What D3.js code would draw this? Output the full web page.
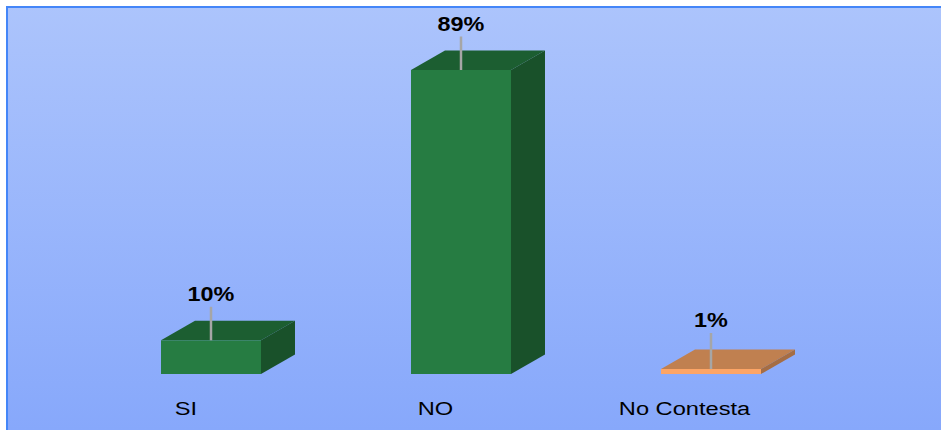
<!DOCTYPE html>
<html><head><meta charset="utf-8">
<script src="https://cdn.jsdelivr.net/npm/d3@7"></script>
<style>html,body{margin:0;padding:0;background:#fff;overflow:hidden}svg{display:block}</style>
</head><body><svg id="c" width="941" height="430"></svg>
<script>
const categories = ["SI", "NO", "No Contesta"];
const values = [10, 89, 1];
const valueLabels = ["10%", "89%", "1%"];
const frontColors = ["#267c42", "#267c42", "#fda566"];
const topColors = ["#1c5e31", "#1c5e31", "#c08050"];
const sideColors = ["#19512a", "#19512a", "#a56d44"];

const svg = d3.select("#c");
const defs = svg.append("defs");
const g = defs.append("linearGradient").attr("id","bg").attr("x1",0).attr("y1",0).attr("x2",0).attr("y2",1);
g.append("stop").attr("offset","0%").attr("stop-color","#acc4fc");
g.append("stop").attr("offset","100%").attr("stop-color","#87a8fb");
svg.append("rect").attr("x",6).attr("y",6).attr("width",935).attr("height",424).attr("fill","url(#bg)");
svg.append("path").attr("d","M7 430V7H941").attr("fill","none").attr("stroke","#4486f8").attr("stroke-width",2);

const x = d3.scaleBand().domain(categories).range([86,836]).paddingInner(0.6).paddingOuter(0.3);
const y = d3.scaleLinear().domain([0,1,10,89]).range([374,369,340.3,70]);
const dx = 34, dy = 19.5, stretch = 1.2;
const data = categories.map((c,i)=>({c,v:values[i],label:valueLabels[i],i}));
const bars = svg.selectAll("g.bar").data(data).join("g").attr("class","bar");
const pts = a => a.map(p=>p.join(",")).join(" ");
bars.append("polygon").attr("fill",d=>topColors[d.i]).attr("points",d=>{
  const l=x(d.c), r=l+x.bandwidth(), t=y(d.v);
  return pts([[l,t],[l+dx,t-dy],[r+dx,t-dy],[r,t]]);
});
bars.append("polygon").attr("fill",d=>sideColors[d.i]).attr("points",d=>{
  const r=x(d.c)+x.bandwidth(), t=y(d.v), b=y(0);
  return pts([[r,t],[r+dx,t-dy],[r+dx,b-dy],[r,b]]);
});
bars.append("rect").attr("fill",d=>frontColors[d.i])
  .attr("x",d=>x(d.c)).attr("y",d=>y(d.v)).attr("width",x.bandwidth()).attr("height",d=>y(0)-y(d.v));
bars.append("line").attr("stroke","#a6a6a6").attr("stroke-width",2.5)
  .attr("x1",d=>x(d.c)+x.bandwidth()/2).attr("x2",d=>x(d.c)+x.bandwidth()/2)
  .attr("y1",d=>y(d.v)).attr("y2",d=>y(d.v)-(d.v<5?36:33.5));
bars.append("text").attr("text-anchor","middle").attr("font-family","Liberation Sans")
  .attr("font-weight","bold").attr("font-size",19.5).attr("fill","#000")
  .attr("transform",d=>`translate(${x(d.c)+x.bandwidth()/2},${y(d.v)-(d.v<5?42:39)}) scale(${stretch},1)`).text(d=>d.label);
const catX = [186, 435.5, 684.5];
svg.selectAll("text.cat").data(categories).join("text").attr("class","cat")
  .attr("text-anchor","middle").attr("font-family","Liberation Sans").attr("font-size",19).attr("fill","#000")
  .attr("transform",(d,i)=>`translate(${catX[i]},415) scale(1.245,1)`).text(d=>d);
</script></body></html>
